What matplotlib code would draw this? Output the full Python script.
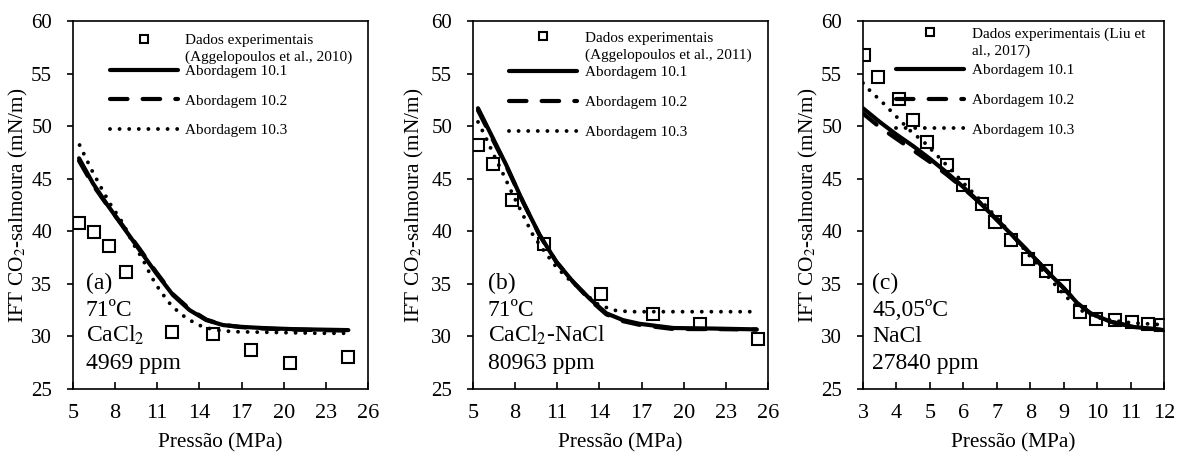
import matplotlib
matplotlib.use('Agg')
import matplotlib.pyplot as plt

plt.rcParams['font.family'] = ['Liberation Serif', 'DejaVu Serif']
plt.rcParams['mathtext.fontset'] = 'stix'
plt.rcParams['lines.scale_dashes'] = False

# ---------------- data ----------------
# Panel (a): 71 ºC, CaCl2 4969 ppm
a_exp_p = [5.43, 6.49, 7.54, 8.75, 12.03, 14.97, 17.7, 20.46, 24.57]
a_exp_ift = [40.75, 39.9, 38.6, 36.15, 30.45, 30.2, 28.7, 27.5, 28.0]
a_m1_p = [5.43, 6.42, 7.37, 8.56, 9.75, 10.93, 12.12, 13.3, 14.49, 15.68, 16.86, 18.5, 20.5, 22.5, 24.6]
a_m1_ift = [46.94, 44.56, 42.66, 40.43, 38.2, 36.0, 33.93, 32.5, 31.55, 31.08, 30.92, 30.8, 30.7, 30.65, 30.6]
a_m2_p = [5.43, 6.42, 7.37, 8.56, 9.75, 10.93, 12.12, 13.3, 14.49, 15.68, 16.86, 18.5, 20.5, 22.5, 24.6]
a_m2_ift = [46.7, 44.4, 42.6, 40.5, 38.3, 36.1, 34.0, 32.6, 31.6, 31.1, 30.9, 30.75, 30.65, 30.6, 30.55]
a_m3_p = [5.47, 5.83, 6.3, 6.9, 7.6, 8.56, 9.27, 9.98, 10.57, 11.17, 11.88, 12.6, 13.3, 14.25, 15.2, 16.4, 18.5, 20.5, 22.5, 24.5]
a_m3_ift = [48.2, 47.2, 45.9, 44.4, 42.7, 40.75, 38.85, 37.3, 35.7, 34.4, 33.15, 32.2, 31.55, 30.9, 30.6, 30.45, 30.4, 30.35, 30.3, 30.3]

# Panel (b): 71 ºC, CaCl2-NaCl 80963 ppm
b_exp_p = [5.36, 6.4, 7.8, 10.06, 14.13, 17.8, 21.14, 25.29]
b_exp_ift = [48.2, 46.4, 43.0, 38.75, 34.0, 32.1, 31.2, 29.8]
b_m1_p = [5.36, 6.19, 7.37, 8.56, 9.75, 10.93, 12.12, 13.3, 14.49, 15.68, 16.86, 19.26, 22.0, 25.19]
b_m1_ift = [51.7, 49.47, 46.3, 42.8, 39.64, 37.1, 35.2, 33.6, 32.2, 31.55, 31.2, 30.8, 30.75, 30.67]
b_m2_p = [5.36, 6.19, 7.37, 8.56, 9.75, 10.93, 12.12, 13.3, 14.49, 15.68, 16.86, 19.26, 22.0, 25.19]
b_m2_ift = [51.5, 49.3, 46.2, 42.8, 39.6, 37.1, 35.2, 33.5, 32.1, 31.45, 31.1, 30.7, 30.7, 30.65]
b_m3_p = [5.36, 5.83, 6.54, 7.13, 7.85, 8.56, 9.27, 10.1, 10.93, 11.88, 12.83, 13.78, 14.96, 16.15, 20.0, 25.0]
b_m3_ift = [50.4, 49.15, 47.1, 45.5, 43.45, 41.55, 39.64, 38.05, 36.6, 35.36, 34.25, 33.14, 32.5, 32.35, 32.35, 32.35]

# Panel (c): 45,05 ºC, NaCl 27840 ppm
c_exp_p = [3.03, 3.45, 4.07, 4.5, 4.92, 5.52, 5.99, 6.57, 6.96, 7.42, 7.94, 8.46, 9.01, 9.48, 9.98, 10.53, 11.03, 11.52, 11.92]
c_exp_ift = [56.8, 54.7, 52.6, 50.6, 48.5, 46.3, 44.4, 42.6, 40.9, 39.2, 37.4, 36.2, 34.75, 32.3, 31.7, 31.6, 31.4, 31.2, 31.1]
c_m1_p = [3.0, 3.5, 4.0, 4.5, 5.0, 5.5, 6.0, 6.5, 7.0, 7.5, 8.0, 8.5, 9.0, 9.4, 9.8, 10.4, 11.1, 12.0]
c_m1_ift = [51.7, 50.4, 49.2, 48.1, 46.9, 45.6, 44.2, 42.7, 41.1, 39.5, 37.9, 36.2, 34.6, 33.2, 32.2, 31.4, 30.9, 30.6]
c_m2_p = [3.0, 3.5, 4.0, 4.5, 5.0, 5.5, 6.0, 6.5, 7.0, 7.5, 8.0, 8.5, 9.0, 9.4, 9.8, 10.4, 11.1, 12.0]
c_m2_ift = [51.2, 49.9, 48.8, 47.7, 46.6, 45.4, 44.1, 42.7, 41.1, 39.5, 37.9, 36.2, 34.6, 33.2, 32.2, 31.4, 30.9, 30.6]
c_m3_p = [3.0, 3.2, 3.6, 4.0, 4.4, 4.85, 5.25, 5.65, 6.0, 6.5, 7.0, 7.5, 8.0, 8.5, 9.0, 9.5, 10.0, 10.5, 11.0, 11.5, 12.0]
c_m3_ift = [54.1, 53.4, 52.2, 50.9, 49.6, 48.4, 47.1, 45.8, 44.6, 43.0, 41.3, 39.5, 37.6, 35.8, 34.0, 32.5, 31.8, 31.5, 31.3, 31.2, 31.1]

a_xticks = [5, 8, 11, 14, 17, 20, 23, 26]
c_xticks = [3, 4, 5, 6, 7, 8, 9, 10, 11, 12]
y_ticks = [25, 30, 35, 40, 45, 50, 55, 60]

label_exp = "Dados experimentais"
label_m1 = "Abordagem 10.1"
label_m2 = "Abordagem 10.2"
label_m3 = "Abordagem 10.3"

panels = [
    dict(pos=[0.0617, 0.1413, 0.2494, 0.8124], xlim=(5, 26), xticks=a_xticks,
         exp=(a_exp_p, a_exp_ift), m1=(a_m1_p, a_m1_ift), m2=(a_m2_p, a_m2_ift), m3=(a_m3_p, a_m3_ift),
         ref_line1=label_exp, ref_line2="(Aggelopoulos et al., 2010)",
         notes=["(a)", "71ºC", "CaCl$_2$", "4969 ppm"], note_x=0.044, ylpad=0.8,
         leg_x=0.125, leg_y1=0.948, leg_y2=0.902, leg_ymid=0.783),
    dict(pos=[0.3998, 0.1413, 0.2494, 0.8124], xlim=(5, 26), xticks=a_xticks,
         exp=(b_exp_p, b_exp_ift), m1=(b_m1_p, b_m1_ift), m2=(b_m2_p, b_m2_ift), m3=(b_m3_p, b_m3_ift),
         ref_line1=label_exp, ref_line2="(Aggelopoulos et al., 2011)",
         notes=["(b)", "71ºC", "CaCl$_2$-NaCl", "80963 ppm"], note_x=0.05, ylpad=4,
         leg_x=0.122, leg_y1=0.954, leg_y2=0.906, leg_ymid=0.779),
    dict(pos=[0.7295, 0.1413, 0.2544, 0.8124], xlim=(3, 12), xticks=c_xticks,
         exp=(c_exp_p, c_exp_ift), m1=(c_m1_p, c_m1_ift), m2=(c_m2_p, c_m2_ift), m3=(c_m3_p, c_m3_ift),
         ref_line1="Dados experimentais (Liu et", ref_line2="al., 2017)",
         notes=["(c)", "45,05ºC", "NaCl", "27840 ppm"], note_x=0.03, ylpad=1.0,
         leg_x=0.11, leg_y1=0.965, leg_y2=0.919, leg_ymid=0.785),
]

fig = plt.figure(figsize=(11.83, 4.53), dpi=100)

LW = 3.0
note_ys = [0.272, 0.198, 0.128, 0.054]
leg_fs = 11
post = []
for p in panels:
    ax = fig.add_axes(p['pos'])
    ln1, = ax.plot(p['m1'][0], p['m1'][1], color='black', lw=LW, solid_capstyle='round',
                   solid_joinstyle='round', zorder=3)
    ln2, = ax.plot(p['m2'][0], p['m2'][1], color='black', lw=LW, dash_capstyle='round',
                   linestyle=(0, (12.6, 10.9)), zorder=3)
    ln3, = ax.plot(p['m3'][0], p['m3'][1], color='black', lw=2.8, dash_capstyle='round',
                   linestyle=(0, (0.01, 6.9)), zorder=3)
    sc, = ax.plot(p['exp'][0], p['exp'][1], linestyle='none', marker='s', markersize=8.7,
                  markerfacecolor='none', markeredgecolor='black', markeredgewidth=1.5, zorder=4)

    ax.set_xlim(*p['xlim'])
    ax.set_ylim(25, 60)
    ax.set_xticks(p['xticks'])
    ax.set_yticks(y_ticks)
    ax.tick_params(axis='x', direction='in', length=5, width=1.2, labelsize=16, pad=11)
    ax.tick_params(axis='y', direction='out', length=4, width=1.2, labelsize=15, pad=11)
    for s in ax.spines.values():
        s.set_linewidth(1.2)
        s.set_color('black')
    ax.set_xlabel("Pressão (MPa)", fontsize=15.3, labelpad=7)
    ax.set_ylabel("IFT CO$_2$-salmoura (mN/m)", fontsize=15.3, labelpad=p['ylpad'])

    for t, yy in zip(p['notes'], note_ys):
        ax.text(p['note_x'], yy, t, transform=ax.transAxes, fontsize=17, va='baseline', ha='left')

    common = dict(frameon=False, fontsize=leg_fs, handlelength=4.45, handletextpad=0.5,
                  borderpad=0, borderaxespad=0, loc='center left')
    leg1 = ax.legend([sc], [p['ref_line1']], bbox_to_anchor=(p['leg_x'], p['leg_y1']),
                     markerscale=0.6, **common)
    ax.add_artist(leg1)
    leg2 = ax.legend([ln1, ln2, ln3], [label_m1, label_m2, label_m3],
                     bbox_to_anchor=(p['leg_x'], p['leg_ymid']), labelspacing=1.05, **common)
    post.append((ax, leg1, p))

fig.canvas.draw()
for ax, leg1, p in post:
    bb = leg1.get_texts()[0].get_window_extent()
    x_ax = ax.transAxes.inverted().transform((bb.x0, bb.y0))[0]
    ax.text(x_ax, p['leg_y2'], p['ref_line2'], transform=ax.transAxes, fontsize=leg_fs,
            va='center', ha='left')

fig.savefig('out.png', dpi=100)
